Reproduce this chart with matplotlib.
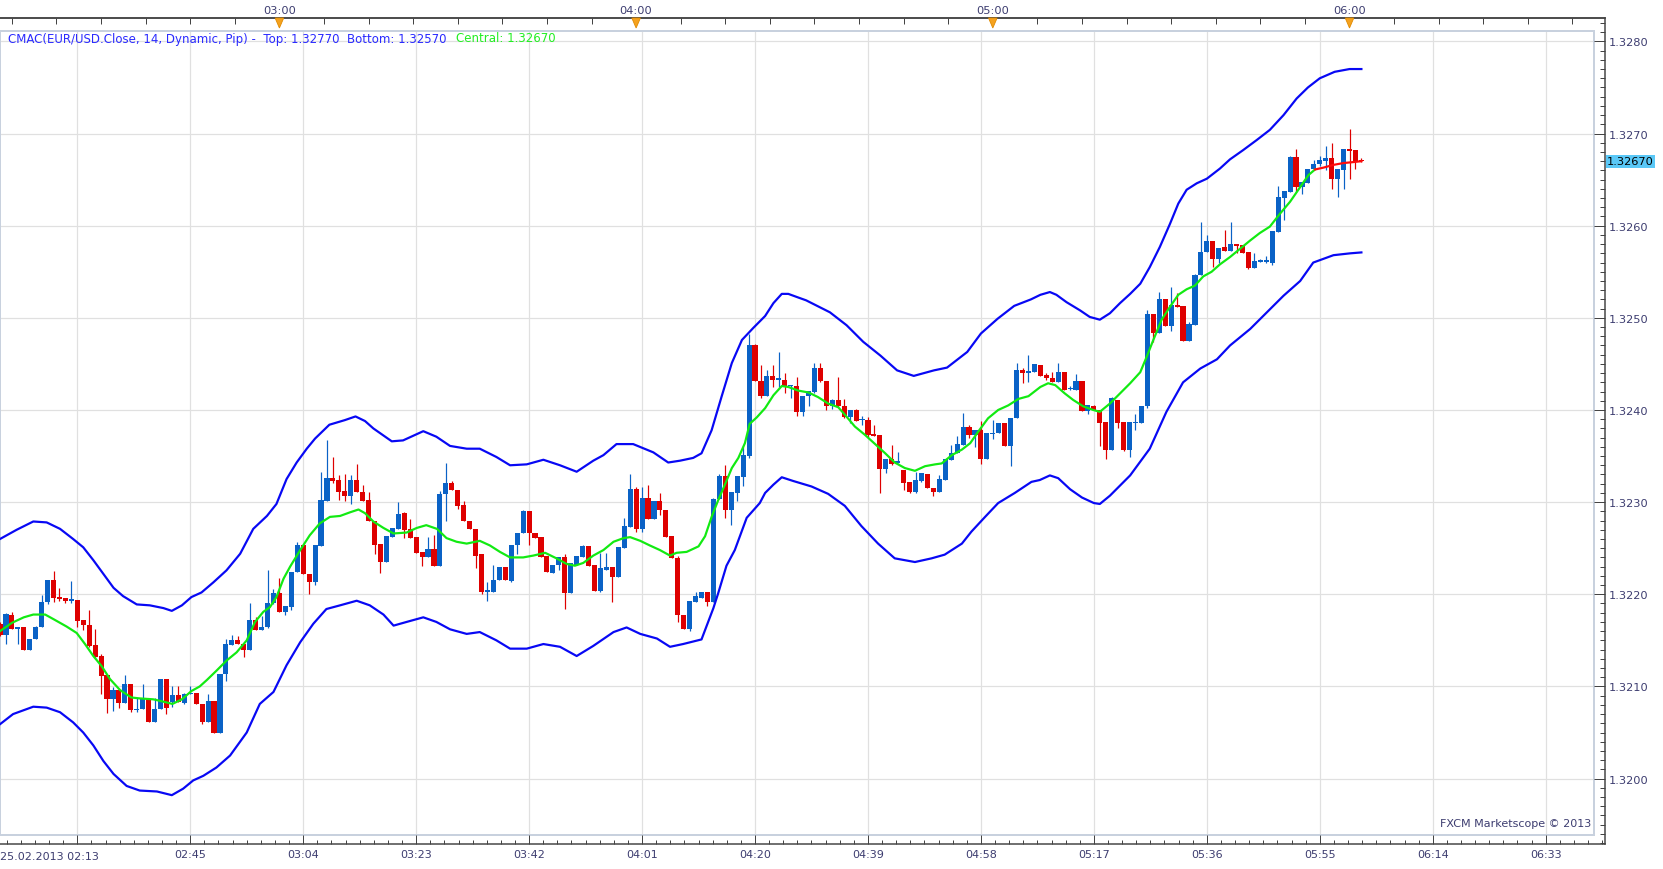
import matplotlib
matplotlib.use("Agg")
import matplotlib.pyplot as plt
import numpy as np
from matplotlib.patches import Rectangle, Polygon
from matplotlib.transforms import blended_transform_factory
from matplotlib.ticker import FixedLocator, FuncFormatter

plt.rcParams['font.family'] = ['DejaVu Sans']

# ---------------- data ----------------
start_label = "25.02.2013 02:13"
start_minutes = 2 * 60 + 13          # first candle = 02:13, one candle per minute

opens = [
1.32168,1.32156,1.32178,1.32162,1.32165,1.32140,1.32151,1.32164,1.32192,1.32216,
1.32197,1.32196,1.32193,1.32194,1.32172,1.32167,1.32145,1.32133,1.32112,1.32086,
1.32096,1.32082,1.32103,1.32074,1.32075,1.32086,1.32061,1.32075,1.32108,1.32083,
1.32091,1.32082,1.32092,1.32093,1.32081,1.32061,1.32084,1.32049,1.32113,1.32145,
1.32150,1.32146,1.32139,1.32172,1.32161,1.32164,1.32190,1.32201,1.32181,1.32186,
1.32224,1.32253,1.32222,1.32213,1.32252,1.32301,1.32326,1.32324,1.32312,1.32307,
1.32324,1.32311,1.32302,1.32280,1.32255,1.32235,1.32262,1.32271,1.32288,1.32271,
1.32262,1.32246,1.32241,1.32249,1.32231,1.32309,1.32321,1.32313,1.32297,1.32280,
1.32271,1.32244,1.32203,1.32203,1.32215,1.32230,1.32214,1.32253,1.32267,1.32290,
1.32267,1.32262,1.32242,1.32223,1.32232,1.32240,1.32201,1.32232,1.32241,1.32252,
1.32232,1.32204,1.32226,1.32230,1.32219,1.32250,1.32273,1.32314,1.32271,1.32304,
1.32282,1.32301,1.32291,1.32263,1.32239,1.32178,1.32162,1.32192,1.32196,1.32203,
1.32192,1.32303,1.32328,1.32291,1.32310,1.32327,1.32350,1.32470,1.32432,1.32415,
1.32437,1.32433,1.32433,1.32426,1.32426,1.32398,1.32415,1.32420,1.32446,1.32432,
1.32404,1.32411,1.32404,1.32392,1.32400,1.32389,1.32389,1.32374,1.32373,1.32336,
1.32347,1.32342,1.32335,1.32322,1.32311,1.32323,1.32331,1.32315,1.32311,1.32324,
1.32346,1.32353,1.32362,1.32381,1.32373,1.32378,1.32347,1.32374,1.32375,1.32386,
1.32361,1.32391,1.32443,1.32440,1.32441,1.32449,1.32438,1.32435,1.32430,1.32441,
1.32423,1.32422,1.32431,1.32399,1.32404,1.32400,1.32387,1.32357,1.32411,1.32387,
1.32357,1.32386,1.32386,1.32404,1.32504,1.32484,1.32520,1.32491,1.32514,1.32513,
1.32475,1.32492,1.32547,1.32571,1.32583,1.32564,1.32577,1.32573,1.32580,1.32579,
1.32571,1.32554,1.32561,1.32561,1.32559,1.32593,1.32630,1.32637,1.32675,1.32642,
1.32646,1.32661,1.32667,1.32670,1.32674,1.32651,1.32660,1.32683,1.32682,1.32671]

highs = [
1.32170,1.32180,1.32181,1.32165,1.32165,1.32152,1.32166,1.32199,1.32216,1.32225,
1.32207,1.32196,1.32214,1.32194,1.32172,1.32183,1.32162,1.32135,1.32112,1.32099,
1.32096,1.32112,1.32103,1.32087,1.32103,1.32086,1.32087,1.32108,1.32108,1.32100,
1.32101,1.32093,1.32101,1.32093,1.32081,1.32092,1.32084,1.32113,1.32151,1.32156,
1.32155,1.32146,1.32190,1.32175,1.32176,1.32226,1.32206,1.32218,1.32187,1.32224,
1.32257,1.32253,1.32222,1.32254,1.32333,1.32367,1.32349,1.32329,1.32331,1.32329,
1.32341,1.32319,1.32311,1.32280,1.32255,1.32263,1.32272,1.32300,1.32289,1.32282,
1.32262,1.32246,1.32262,1.32264,1.32312,1.32342,1.32323,1.32313,1.32301,1.32280,
1.32271,1.32244,1.32213,1.32232,1.32230,1.32230,1.32253,1.32267,1.32292,1.32290,
1.32267,1.32262,1.32242,1.32232,1.32240,1.32244,1.32234,1.32242,1.32254,1.32252,
1.32232,1.32245,1.32245,1.32230,1.32251,1.32283,1.32331,1.32316,1.32316,1.32319,
1.32301,1.32310,1.32291,1.32263,1.32242,1.32178,1.32193,1.32203,1.32203,1.32203,
1.32304,1.32330,1.32340,1.32311,1.32328,1.32361,1.32483,1.32472,1.32449,1.32443,
1.32449,1.32463,1.32440,1.32427,1.32436,1.32415,1.32421,1.32451,1.32451,1.32432,
1.32412,1.32436,1.32412,1.32400,1.32401,1.32394,1.32392,1.32384,1.32373,1.32347,
1.32362,1.32354,1.32335,1.32322,1.32333,1.32332,1.32331,1.32315,1.32329,1.32347,
1.32362,1.32372,1.32397,1.32384,1.32378,1.32388,1.32375,1.32389,1.32386,1.32386,
1.32391,1.32451,1.32446,1.32460,1.32450,1.32449,1.32440,1.32441,1.32451,1.32441,
1.32426,1.32439,1.32431,1.32405,1.32405,1.32400,1.32387,1.32414,1.32411,1.32387,
1.32387,1.32396,1.32404,1.32508,1.32504,1.32528,1.32520,1.32534,1.32527,1.32513,
1.32496,1.32548,1.32604,1.32590,1.32583,1.32576,1.32595,1.32604,1.32580,1.32579,
1.32571,1.32570,1.32564,1.32567,1.32594,1.32643,1.32638,1.32676,1.32683,1.32647,
1.32661,1.32671,1.32676,1.32686,1.32690,1.32661,1.32683,1.32705,1.32682,1.32673]

lows = [
1.32155,1.32146,1.32162,1.32146,1.32140,1.32140,1.32151,1.32164,1.32189,1.32192,
1.32193,1.32191,1.32190,1.32164,1.32161,1.32143,1.32131,1.32092,1.32071,1.32073,
1.32077,1.32082,1.32072,1.32072,1.32075,1.32061,1.32061,1.32075,1.32070,1.32078,
1.32083,1.32081,1.32092,1.32081,1.32059,1.32061,1.32049,1.32049,1.32106,1.32145,
1.32146,1.32132,1.32139,1.32161,1.32161,1.32163,1.32189,1.32181,1.32178,1.32183,
1.32224,1.32222,1.32200,1.32210,1.32252,1.32301,1.32321,1.32302,1.32301,1.32298,
1.32311,1.32301,1.32280,1.32244,1.32223,1.32235,1.32262,1.32271,1.32261,1.32261,
1.32245,1.32231,1.32241,1.32231,1.32231,1.32280,1.32313,1.32293,1.32279,1.32271,
1.32229,1.32200,1.32193,1.32203,1.32215,1.32215,1.32213,1.32244,1.32267,1.32253,
1.32261,1.32241,1.32224,1.32223,1.32226,1.32184,1.32201,1.32232,1.32241,1.32231,
1.32204,1.32203,1.32226,1.32192,1.32219,1.32250,1.32273,1.32268,1.32268,1.32282,
1.32282,1.32286,1.32262,1.32239,1.32170,1.32162,1.32160,1.32192,1.32196,1.32187,
1.32192,1.32303,1.32283,1.32275,1.32301,1.32318,1.32348,1.32431,1.32413,1.32415,
1.32425,1.32425,1.32418,1.32413,1.32393,1.32394,1.32404,1.32418,1.32430,1.32400,
1.32401,1.32403,1.32391,1.32386,1.32388,1.32384,1.32371,1.32372,1.32310,1.32332,
1.32340,1.32342,1.32313,1.32310,1.32310,1.32322,1.32315,1.32307,1.32311,1.32324,
1.32346,1.32353,1.32362,1.32370,1.32360,1.32341,1.32347,1.32369,1.32375,1.32361,
1.32339,1.32391,1.32429,1.32430,1.32441,1.32437,1.32433,1.32430,1.32430,1.32422,
1.32422,1.32422,1.32399,1.32396,1.32400,1.32361,1.32347,1.32357,1.32380,1.32355,
1.32349,1.32378,1.32386,1.32402,1.32474,1.32484,1.32491,1.32486,1.32512,1.32475,
1.32475,1.32492,1.32547,1.32571,1.32555,1.32559,1.32573,1.32573,1.32570,1.32570,
1.32553,1.32554,1.32561,1.32559,1.32557,1.32593,1.32606,1.32637,1.32637,1.32634,
1.32646,1.32661,1.32665,1.32660,1.32640,1.32631,1.32640,1.32651,1.32662,1.32669]

closes = [
1.32156,1.32179,1.32162,1.32165,1.32140,1.32152,1.32165,1.32192,1.32216,1.32196,
1.32195,1.32193,1.32194,1.32171,1.32167,1.32144,1.32132,1.32111,1.32086,1.32096,
1.32082,1.32103,1.32074,1.32075,1.32086,1.32061,1.32076,1.32108,1.32077,1.32091,
1.32083,1.32092,1.32093,1.32081,1.32061,1.32084,1.32049,1.32113,1.32146,1.32150,
1.32146,1.32139,1.32172,1.32161,1.32165,1.32190,1.32201,1.32181,1.32187,1.32224,
1.32253,1.32222,1.32213,1.32253,1.32302,1.32326,1.32323,1.32311,1.32307,1.32324,
1.32311,1.32301,1.32280,1.32254,1.32235,1.32263,1.32272,1.32287,1.32270,1.32261,
1.32245,1.32241,1.32249,1.32231,1.32309,1.32321,1.32313,1.32296,1.32279,1.32271,
1.32242,1.32203,1.32204,1.32215,1.32230,1.32215,1.32253,1.32267,1.32290,1.32267,
1.32261,1.32241,1.32224,1.32232,1.32240,1.32201,1.32234,1.32242,1.32252,1.32231,
1.32204,1.32228,1.32230,1.32219,1.32251,1.32274,1.32314,1.32271,1.32304,1.32282,
1.32301,1.32291,1.32262,1.32239,1.32177,1.32162,1.32193,1.32198,1.32203,1.32192,
1.32303,1.32328,1.32291,1.32311,1.32328,1.32351,1.32470,1.32431,1.32415,1.32437,
1.32433,1.32434,1.32425,1.32427,1.32398,1.32415,1.32421,1.32446,1.32431,1.32404,
1.32411,1.32404,1.32392,1.32400,1.32388,1.32390,1.32373,1.32372,1.32336,1.32347,
1.32341,1.32345,1.32321,1.32311,1.32324,1.32332,1.32315,1.32311,1.32325,1.32347,
1.32353,1.32363,1.32381,1.32373,1.32378,1.32347,1.32375,1.32375,1.32386,1.32361,
1.32391,1.32443,1.32440,1.32442,1.32450,1.32437,1.32435,1.32430,1.32441,1.32422,
1.32424,1.32431,1.32399,1.32405,1.32400,1.32386,1.32357,1.32413,1.32386,1.32357,
1.32387,1.32387,1.32404,1.32504,1.32484,1.32520,1.32491,1.32514,1.32512,1.32475,
1.32493,1.32547,1.32571,1.32583,1.32564,1.32576,1.32573,1.32580,1.32578,1.32570,
1.32554,1.32562,1.32562,1.32562,1.32594,1.32631,1.32638,1.32675,1.32642,1.32647,
1.32661,1.32667,1.32671,1.32674,1.32651,1.32661,1.32683,1.32681,1.32670,1.32670]

# CMAC central line (minutes after 02:13, price)
central_t = [
0, 2, 4, 5.6, 7.6, 9, 11.2, 12.9, 14.3, 15.7,
17.1, 18.5, 20.2, 22.1, 23.5, 25.8, 27.8, 29, 30.6, 32.2,
33.6, 34.8, 36.4, 38.1, 39.8, 41.5, 42.9, 44.3, 45.4, 46.5,
47.7, 48.8, 50.5, 52.1, 53.8, 55.5, 57.2, 58.9, 60.3, 61.4,
62.8, 64.5, 66.2, 68.4, 70.1, 71.7, 73.5, 75.1, 76.8, 78.5,
80.7, 82.4, 84.1, 85.8, 88, 89.7, 91.7, 93.6, 95.3, 96.7,
98.1, 99.8, 101.5, 103.2, 104.9, 106, 107.7, 109.3, 111, 112.7,
113.8, 115.5, 117.5, 118.6, 119.7, 120.8, 122, 123.1, 124.2, 125.3,
126.1, 127.3, 128.7, 130.1, 131.5, 132.6, 134.3, 136, 137.6, 139.3,
141, 142.1, 143.8, 145.5, 147.2, 148.9, 150.5, 152.2, 153.9, 155.6,
157.3, 158.4, 160.1, 161.8, 163.2, 164.6, 166.2, 167.9, 169.6, 171.3,
173, 175, 176.3, 177.5, 179.1, 180.5, 182.2, 183.9, 185, 186.7,
188.4, 190.1, 191.8, 192.9, 194, 195.4, 196.8, 198.2, 199.6, 201,
202.4, 203.8, 205.2, 206.9, 208.6, 210.3, 211.9, 213.6, 215.3, 217,
218.7, 220.1, 221.2]
central_v = [
1.32160,1.32169,1.32175,1.32178,1.32178,1.32173,1.32165,1.32158,1.32146,1.32133,
1.32122,1.32108,1.32096,1.32088,1.32087,1.32086,1.32083,1.32081,1.32086,1.32095,
1.32100,1.32107,1.32117,1.32128,1.32137,1.32150,1.32170,1.32181,1.32186,1.32197,
1.32217,1.32230,1.32248,1.32264,1.32277,1.32284,1.32285,1.32289,1.32292,1.32288,
1.32279,1.32272,1.32266,1.32267,1.32272,1.32275,1.32271,1.32261,1.32257,1.32255,
1.32258,1.32253,1.32246,1.32240,1.32240,1.32242,1.32245,1.32239,1.32233,1.32231,
1.32234,1.32242,1.32248,1.32257,1.32261,1.32262,1.32258,1.32253,1.32248,1.32242,
1.32245,1.32246,1.32252,1.32263,1.32284,1.32302,1.32320,1.32337,1.32348,1.32364,
1.32385,1.32392,1.32402,1.32416,1.32426,1.32425,1.32421,1.32419,1.32414,1.32407,
1.32403,1.32395,1.32382,1.32373,1.32363,1.32353,1.32343,1.32337,1.32334,1.32339,
1.32341,1.32342,1.32351,1.32357,1.32364,1.32377,1.32391,1.32400,1.32405,1.32412,
1.32415,1.32425,1.32429,1.32427,1.32418,1.32411,1.32404,1.32400,1.32398,1.32407,
1.32418,1.32429,1.32441,1.32458,1.32476,1.32498,1.32512,1.32525,1.32531,1.32535,
1.32545,1.32550,1.32558,1.32566,1.32575,1.32584,1.32592,1.32599,1.32613,1.32626,
1.32642,1.32655,1.32661]
# last, not yet centred part of the central line (drawn red)
tail_t = [221.2, 222.6, 224.3, 226, 227.6, 229]
tail_v = [1.32661, 1.32663, 1.32666, 1.32668, 1.32669, 1.32670]

top_t = [
0, 2.8, 5.6, 7.85, 10.1, 12.3, 14, 15.7, 17.4, 19.1,
20.7, 23, 25.2, 27.5, 28.9, 30.6, 32.2, 33.9, 35.9, 38.1,
40.4, 42.6, 44.9, 46.5, 48.2, 49.9, 51.6, 53, 55.4, 58,
59.8, 61.4, 62.8, 65.9, 67.8, 71.2, 73.4, 75.7, 78.5, 80.7,
83.5, 85.8, 88.6, 91.4, 94.2, 97, 99.8, 101.5, 103.7, 106.5,
109.9, 112.4, 114.4, 116.6, 118, 119.7, 121.4, 123.1, 124.8, 126.7,
128.7, 130.1, 131.5, 132.6, 134.3, 135.6, 139.6, 142.4, 145.2, 148.1,
150.9, 153.7, 157.1, 159.3, 162.7, 165, 167.8, 170.6, 173.4, 175,
176.6, 177.7, 179.4, 181.7, 183.3, 185, 186.7, 188.4, 190.1, 191.8,
193.4, 195.1, 196.8, 198.2, 199.6, 201.3, 203, 205.2, 206.9, 209.1,
211.4, 213.6, 215.9, 218.1, 220, 222, 224.5, 227, 229]
top_v = [
1.32260,1.32270,1.32279,1.32278,1.32271,1.32260,1.32251,1.32237,1.32222,1.32207,
1.32198,1.32189,1.32188,1.32185,1.32182,1.32188,1.32197,1.32202,1.32213,1.32226,
1.32244,1.32271,1.32285,1.32298,1.32325,1.32343,1.32358,1.32369,1.32384,1.32389,
1.32393,1.32388,1.32380,1.32366,1.32367,1.32377,1.32371,1.32361,1.32358,1.32358,
1.32349,1.32340,1.32341,1.32346,1.32340,1.32333,1.32345,1.32351,1.32363,1.32363,
1.32354,1.32343,1.32345,1.32348,1.32353,1.32378,1.32415,1.32451,1.32476,1.32489,
1.32502,1.32516,1.32526,1.32526,1.32522,1.32519,1.32506,1.32492,1.32474,1.32459,
1.32443,1.32437,1.32443,1.32446,1.32463,1.32483,1.32499,1.32513,1.32520,1.32525,
1.32528,1.32525,1.32517,1.32508,1.32501,1.32498,1.32505,1.32516,1.32526,1.32537,
1.32555,1.32577,1.32602,1.32624,1.32639,1.32646,1.32651,1.32662,1.32672,1.32682,
1.32693,1.32704,1.32720,1.32738,1.32750,1.32760,1.32767,1.32770,1.32770]

bot_t = [
0, 2.2, 5.6, 7.85, 10.1, 12.3, 14, 15.7, 17.4, 19.1,
21.3, 23.5, 26.4, 28.9, 30.8, 32.5, 34.2, 36.4, 38.7, 41.5,
43.7, 46, 48.2, 50.5, 52.7, 54.9, 57.2, 60, 62.2, 64.5,
66.2, 68.4, 71.2, 73.4, 75.7, 78.5, 80.7, 83.5, 85.8, 88.6,
91.4, 94.2, 97, 99.8, 103.2, 105.4, 107.7, 110.5, 112.7, 114.9,
118, 120, 120.8, 122.2, 123.6, 125.6, 127.8, 128.7, 130.1, 131.5,
133.4, 136.5, 139.3, 142.1, 144.9, 147.7, 150.5, 153.9, 156.7, 158.9,
161.8, 163.4, 165.7, 167.9, 170.7, 173.5, 174.9, 176.6, 178, 180,
182, 184, 185, 186.7, 188.4, 190.1, 193.4, 196.2, 199, 201.9,
204.7, 206.9, 210.3, 213.1, 215.9, 218.7, 220.9, 224.3, 227.1, 229]
bot_v = [
1.32059,1.32070,1.32078,1.32077,1.32072,1.32061,1.32050,1.32036,1.32019,1.32005,
1.31992,1.31987,1.31986,1.31982,1.31989,1.31998,1.32003,1.32012,1.32025,1.32050,
1.32081,1.32094,1.32123,1.32148,1.32168,1.32184,1.32188,1.32193,1.32188,1.32178,
1.32166,1.32170,1.32175,1.32170,1.32162,1.32157,1.32159,1.32150,1.32141,1.32141,
1.32146,1.32143,1.32133,1.32144,1.32159,1.32164,1.32157,1.32152,1.32143,1.32146,
1.32151,1.32185,1.32201,1.32231,1.32248,1.32283,1.32299,1.32310,1.32319,1.32327,
1.32323,1.32317,1.32309,1.32296,1.32274,1.32255,1.32239,1.32235,1.32239,1.32243,
1.32255,1.32268,1.32284,1.32299,1.32310,1.32322,1.32324,1.32329,1.32326,1.32314,
1.32305,1.32299,1.32298,1.32307,1.32318,1.32329,1.32358,1.32398,1.32430,1.32445,
1.32455,1.32470,1.32488,1.32506,1.32524,1.32540,1.32560,1.32568,1.32570,1.32571]

legend_main = "CMAC(EUR/USD.Close, 14, Dynamic, Pip) -  Top: 1.32770  Bottom: 1.32570"
legend_central = "Central: 1.32670"
last_price = 1.32670
last_price_label = "1.32670"
price_ticks = [1.3200, 1.3210, 1.3220, 1.3230, 1.3240, 1.3250, 1.3260, 1.3270, 1.3280]
hour_marks = [47, 107, 167, 227]          # 03:00, 04:00, 05:00, 06:00 (minutes after 02:13)
copyright_text = "FXCM Marketscope \u00a9 2013"

# ---------------- layout ----------------
W, H, DPI = 1663, 870, 100
PT = 72.0 / DPI                      # points per pixel
fig = plt.figure(figsize=(W / DPI, H / DPI), dpi=DPI)
fig.patch.set_facecolor('white')

AX_L, AX_R, AX_T, AX_B = 0, 1605, 19, 845      # axis lines (pixels)
IN_R, IN_T, IN_B = 1594, 32, 836                # inner plot frame
ax = fig.add_axes([AX_L / W, 1 - AX_B / H, (AX_R - AX_L) / W, (AX_B - AX_T) / H])
ax.set_facecolor('white')

PX_PER_MIN = 5.945
ax.set_xlim(0, (AX_R - AX_L) / PX_PER_MIN)
ax.set_ylim(1.319290, 1.328254)

BLUE_C = '#0a62c6'
RED_C = '#de0000'
BAND_C = '#0808f4'
GREEN_C = '#12ea12'
AXIS_C = '#444444'
LABEL_C = '#3d3d70'
GRID_C = '#e0e0e0'

ymin_f = (AX_B - IN_B) / (AX_B - AX_T)
ymax_f = (AX_B - IN_T) / (AX_B - AX_T)
xmax_f = (IN_R - AX_L) / (AX_R - AX_L)

# grid
major_x = [13 + 19 * k for k in range(14)]
for t in major_x:
    ax.axvline(t, ymin=ymin_f, ymax=ymax_f, color=GRID_C, lw=1.2 * PT, zorder=0)
for p in price_ticks:
    ax.axhline(p, xmin=0, xmax=xmax_f, color=GRID_C, lw=1.2 * PT, zorder=0)

ax.add_patch(Rectangle((0, ymin_f), xmax_f, ymax_f - ymin_f, transform=ax.transAxes,
                       fill=False, ec='#c8d1de', lw=2 * PT, zorder=1, clip_on=False))

# candles
o = np.array(opens); h = np.array(highs); l = np.array(lows); c = np.array(closes)
x = np.arange(len(o))
cols = np.where(c >= o, BLUE_C, RED_C)
ax.vlines(x, l, h, colors=cols, lw=1.2 * PT, zorder=3)
body_bot = np.minimum(o, c)
body_h = np.maximum(np.abs(c - o), 0.000014)
ax.bar(x, body_h, bottom=body_bot, width=0.86, color=cols, lw=0, zorder=4)

# CMAC lines
ax.plot(top_t, top_v, color=BAND_C, lw=2.2 * PT, zorder=5)
ax.plot(bot_t, bot_v, color=BAND_C, lw=2.2 * PT, zorder=5)
ax.plot(central_t, central_v, color=GREEN_C, lw=2.2 * PT, zorder=6)
ax.plot(tail_t, tail_v, color='#ff0a0a', lw=2.2 * PT, zorder=6)

# spines
ax.spines['left'].set_visible(False)
for s in ['top', 'bottom', 'right']:
    ax.spines[s].set_color(AXIS_C)
    ax.spines[s].set_linewidth(1.5 * PT)

# right price axis
ax.yaxis.tick_right()
ax.yaxis.set_major_locator(FixedLocator(price_ticks))
ax.yaxis.set_minor_locator(FixedLocator([1.3193 + 0.0001 * k for k in range(90)]))
ax.yaxis.set_major_formatter(FuncFormatter(lambda v, p: f"{v:.4f}"))
ax.tick_params(axis='y', which='major', direction='in', length=11 * PT, width=1 * PT,
               color=AXIS_C, labelcolor=LABEL_C, labelsize=8.2, pad=4 * PT)
ax.tick_params(axis='y', which='minor', direction='in', length=5 * PT, width=1 * PT,
               color=AXIS_C)

# bottom time axis
def fmt_bottom(v, pos):
    t = int(round(v))
    if t == 13:
        return ''
    hh, mm = divmod(start_minutes + t, 60)
    return f"{hh:02d}:{mm:02d}"

ax.xaxis.set_major_locator(FixedLocator(major_x))
ax.xaxis.set_minor_locator(FixedLocator([13 + 2.375 * k for k in range(-5, 109)]))
ax.xaxis.set_major_formatter(FuncFormatter(fmt_bottom))
ax.tick_params(axis='x', which='major', direction='in', length=9 * PT, width=1 * PT,
               color=AXIS_C, labelcolor=LABEL_C, labelsize=8, pad=5 * PT)
ax.tick_params(axis='x', which='minor', direction='in', length=4 * PT, width=1 * PT,
               color=AXIS_C)
ax.tick_params(axis='x', which='both', top=False)
trans_b = blended_transform_factory(ax.transData, ax.transAxes)
ax.text(0, -(12 / (AX_B - AX_T)), start_label, transform=trans_b, ha='left', va='center',
        fontsize=8, color=LABEL_C)

# top time axis
def fmt_top(v, pos):
    t = int(round(v))
    if t in hour_marks:
        hh, mm = divmod(start_minutes + t, 60)
        return f"{hh:02d}:{mm:02d}"
    return ''

sec = ax.secondary_xaxis('top')
sec.xaxis.set_major_locator(FixedLocator([47 + 7.5 * k for k in range(-6, 30)]))
sec.xaxis.set_major_formatter(FuncFormatter(fmt_top))
sec.tick_params(axis='x', direction='in', length=6 * PT, width=1 * PT, color=AXIS_C,
                labelcolor=LABEL_C, labelsize=8.2, pad=3 * PT)
sec.spines['top'].set_color(AXIS_C)
sec.spines['top'].set_linewidth(1.5 * PT)

# orange hour markers
hw = 4.3 / PX_PER_MIN
hh_ = 10 / (AX_B - AX_T)
for t in hour_marks:
    ax.add_patch(Polygon([(t - hw, 1.0), (t + hw, 1.0), (t, 1.0 - hh_)], closed=True,
                         transform=trans_b, fc='#f5a21e', ec='#e08a00', lw=0.6,
                         zorder=8, clip_on=False))

# legend text
t_main = fig.text(8.5 / W, 1 - 39 / H, legend_main, color='#2a2aff', fontsize=8.45,
                  ha='left', va='center')
ax.annotate(legend_central, xy=(1, 0.5), xycoords=t_main, xytext=(9, 0),
            textcoords='offset pixels', ha='left', va='center', color='#22ee22',
            fontsize=8.45, annotation_clip=False)

# last price marker on the price axis
trans_r = blended_transform_factory(ax.transAxes, ax.transData)
ax.text(1.0 + 2 / (AX_R - AX_L), last_price, last_price_label, transform=trans_r,
        ha='left', va='center', fontsize=8.2, color='black', zorder=10,
        bbox=dict(boxstyle='square,pad=0.12', fc='#5ac8f7', ec='none'), clip_on=False)

# copyright
fig.text(1591 / W, 1 - 824 / H, copyright_text, ha='right', va='center', fontsize=8,
         color=LABEL_C)

fig.savefig('out.png', dpi=DPI, facecolor='white')
